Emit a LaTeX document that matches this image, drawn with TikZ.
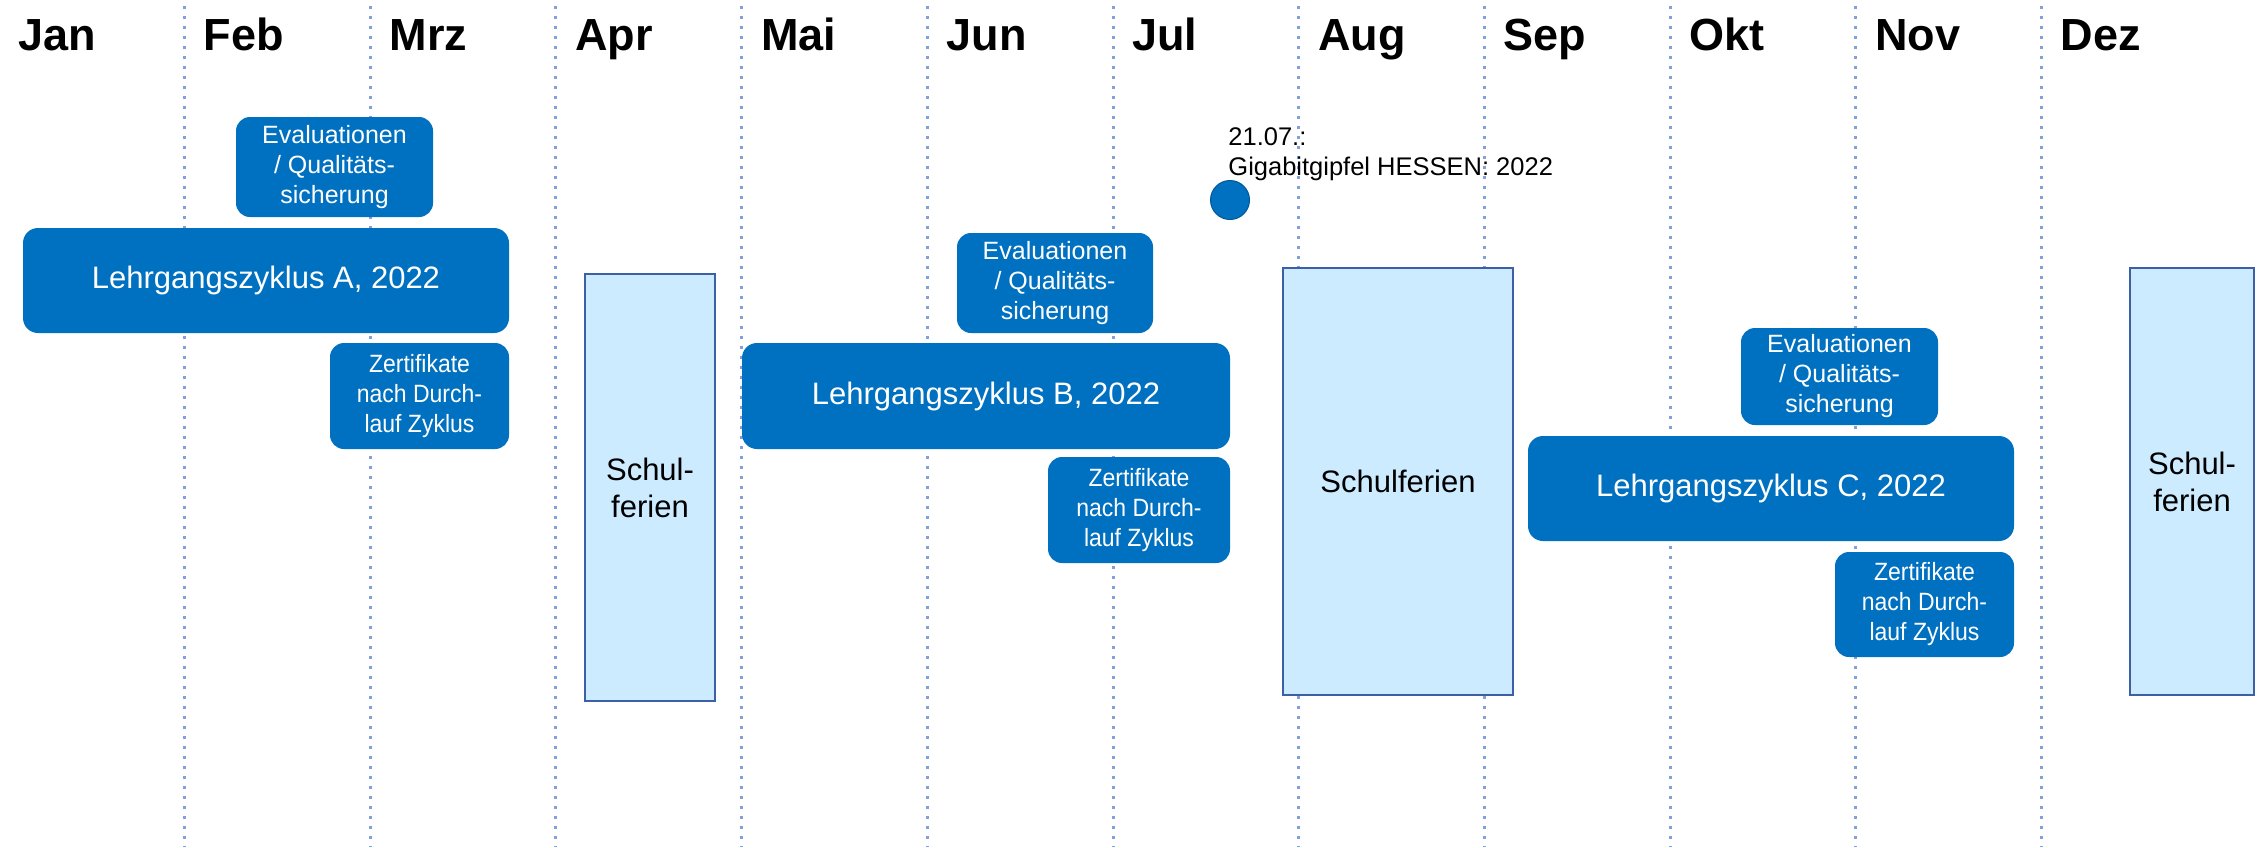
\documentclass[tikz,border=0pt]{standalone}
\usepackage{fontspec}
\setmainfont{Liberation Sans}
\newfontfamily\narrowfont{Liberation Sans}[FakeStretch=0.92]
\definecolor{cblue}{HTML}{0070C0}
\definecolor{lblue}{HTML}{CCEBFF}
\definecolor{fborder}{RGB}{61,95,166}
\definecolor{gridc}{RGB}{130,160,220}
\begin{document}
\begin{tikzpicture}[x=0.5pt,y=-0.5pt,
  gridline/.style={gridc, line width=1.5pt, dash pattern=on 1.5pt off 3.5pt},
  month/.style={anchor=base west, inner sep=0pt, font=\fontsize{22.5}{27}\selectfont\bfseries},
  cyc/.style={fill=cblue, rounded corners=7.5pt, text=white, inner sep=0pt, outer sep=0pt,
    font=\fontsize{15.5}{18}\selectfont},
  evalbox/.style={fill=cblue, rounded corners=7pt, text=white, inner sep=0pt, outer sep=0pt,
    align=center, font=\fontsize{12.5}{15}\selectfont},
  zert/.style={fill=cblue, rounded corners=7pt, text=white, inner sep=0pt, outer sep=0pt,
    align=center, font=\narrowfont\fontsize{12.5}{15}\selectfont},
  ferien/.style={fill=lblue, draw=fborder, line width=1pt, text=black, inner sep=0pt, outer sep=0pt,
    align=center, font=\fontsize{15.5}{18.5}\selectfont},
  note/.style={anchor=base west, inner sep=0pt, font=\fontsize{12.75}{15}\selectfont}
]
\useasboundingbox (0,0) rectangle (2260,847);
\fill[white] (0,0) rectangle (2260,847);
% month separators
\foreach \k in {1,...,11} {
  \draw[gridline] ({184.5+(\k-1)*185.7},6) -- ({184.5+(\k-1)*185.7},847);
}
% month labels
\foreach \m [count=\i from 0] in {Jan,Feb,Mrz,Apr,Mai,Jun,Jul,Aug,Sep,Okt,Nov,Dez} {
  \node[month] (m\i) at ({17.8+\i*185.7},50) {\m};
}
% cycle A
\node[cyc, minimum width=243pt, minimum height=52.5pt] (cycA) at (266,280.5) {Lehrgangszyklus A, 2022};
\node[evalbox, minimum width=98.5pt, minimum height=50pt] (evA) at (334.5,167) {Evaluationen\\/ Qualitäts-\\sicherung};
\node[zert, minimum width=89.5pt, minimum height=53pt] (zeA) at (419.5,396) {Zertifikate\\nach Durch-\\lauf Zyklus};
% holidays April
\node[ferien, minimum width=65pt, minimum height=213.5pt] (fApr) at (650,487.5) {Schul-\\ferien};
% cycle B
\node[cyc, minimum width=244pt, minimum height=53pt] (cycB) at (986,396) {Lehrgangszyklus B, 2022};
\node[evalbox, minimum width=98pt, minimum height=50pt] (evB) at (1055,283) {Evaluationen\\/ Qualitäts-\\sicherung};
\node[zert, minimum width=91pt, minimum height=53pt] (zeB) at (1139,510) {Zertifikate\\nach Durch-\\lauf Zyklus};
% Gigabitgipfel
\node[circle, fill=cblue, draw=cblue!80!black, line width=0.5pt, minimum size=19.5pt, inner sep=0pt] (dot) at (1230,200) {};
\node[note] (gg1) at (1228,145) {21.07.:};
\node[note] (gg2) at (1228,175) {Gigabitgipfel HESSEN: 2022};
% holidays August
\node[ferien, minimum width=115pt, minimum height=213.5pt] (fAug) at (1398,481.5) {Schulferien};
% cycle C
\node[cyc, minimum width=243pt, minimum height=52.5pt] (cycC) at (1771,488.5) {Lehrgangszyklus C, 2022};
\node[evalbox, minimum width=98.5pt, minimum height=48.5pt] (evC) at (1839.5,376.5) {Evaluationen\\/ Qualitäts-\\sicherung};
\node[zert, minimum width=89.5pt, minimum height=52.5pt] (zeC) at (1924.5,604.5) {Zertifikate\\nach Durch-\\lauf Zyklus};
% holidays December
\node[ferien, minimum width=62pt, minimum height=213.5pt] (fDez) at (2192,481.5) {Schul-\\ferien};
\end{tikzpicture}
\end{document}
